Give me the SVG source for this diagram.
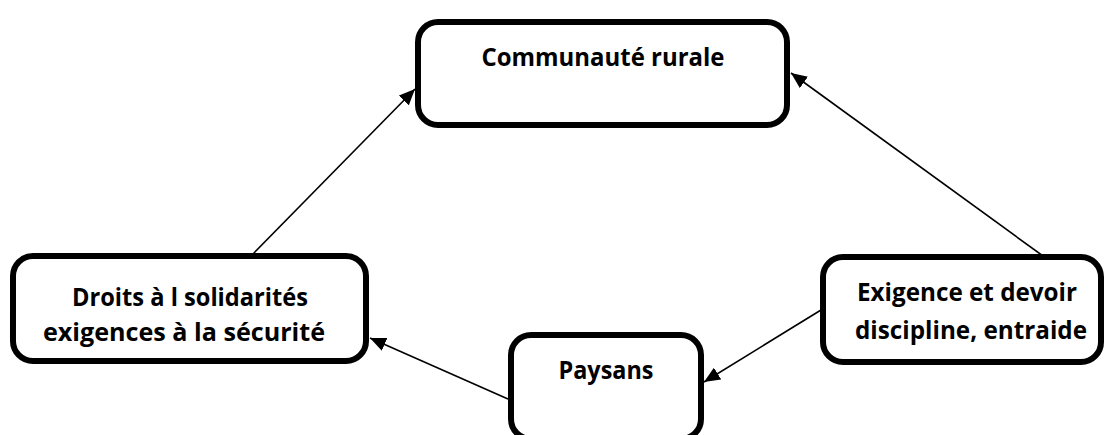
<svg xmlns="http://www.w3.org/2000/svg" width="1105" height="435" viewBox="0 0 1105 435">
<style>
.box{fill:#fff;stroke:#000;stroke-width:6}
.lbl{font-family:"Open Sans","Noto Sans","Liberation Sans",sans-serif;font-weight:bold;font-size:25px;fill:#000;text-anchor:middle}
.conn{stroke:#000;stroke-width:1.6;fill:none}
</style>
<defs>
<marker id="ah" markerUnits="userSpaceOnUse" markerWidth="16" markerHeight="14" viewBox="0 0 16 14" refX="16" refY="7" orient="auto">
<path d="M0,0 L16,7 L0,14 Z" fill="#000"/>
</marker>
</defs>
<rect width="1105" height="435" fill="#fff"/>
<g id="connectors">
<line class="conn" x1="253" y1="254" x2="415" y2="89" marker-end="url(#ah)"/>
<line class="conn" x1="1043" y1="256" x2="791" y2="73" marker-end="url(#ah)"/>
<line class="conn" x1="821" y1="310" x2="704" y2="382" marker-end="url(#ah)"/>
<line class="conn" x1="508" y1="399" x2="370" y2="338" marker-end="url(#ah)"/>
</g>
<g id="node-communaute">
<rect class="box" x="418" y="22" width="369" height="103" rx="20"/>
<text class="lbl" x="603" y="66" textLength="243" lengthAdjust="spacingAndGlyphs">Communauté rurale</text>
</g>
<g id="node-droits">
<rect class="box" x="13" y="256" width="353" height="105" rx="20"/>
<text class="lbl" x="190" y="306" textLength="236" lengthAdjust="spacingAndGlyphs">Droits à l solidarités</text>
<text class="lbl" x="184" y="341" textLength="282" lengthAdjust="spacingAndGlyphs">exigences à la sécurité</text>
</g>
<g id="node-paysans">
<rect class="box" x="511" y="335" width="190" height="104" rx="20"/>
<text class="lbl" x="606" y="379" textLength="95" lengthAdjust="spacingAndGlyphs">Paysans</text>
</g>
<g id="node-exigence">
<rect class="box" x="823" y="257" width="278" height="105" rx="20"/>
<text class="lbl" x="967" y="301" textLength="220" lengthAdjust="spacingAndGlyphs">Exigence et devoir</text>
<text class="lbl" x="971" y="339" textLength="232" lengthAdjust="spacingAndGlyphs">discipline, entraide</text>
</g>
</svg>
